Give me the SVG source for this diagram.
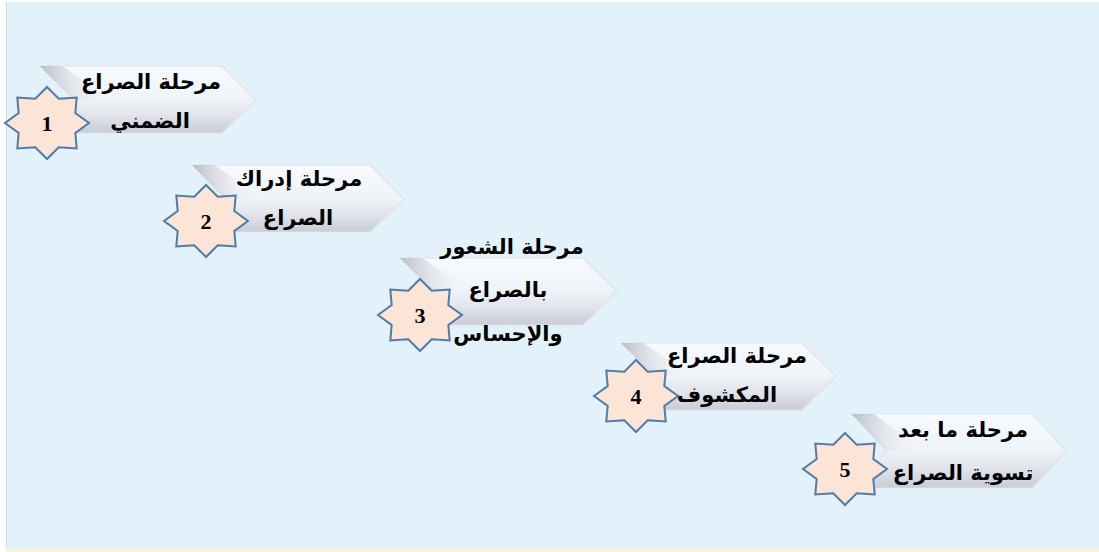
<svg xmlns="http://www.w3.org/2000/svg" width="1099" height="552" viewBox="0 0 1099 552">
  <defs>
    <linearGradient id="chevFill" x1="0" y1="0" x2="0" y2="1">
      <stop offset="0" stop-color="#f7fbfe"/>
      <stop offset="0.5" stop-color="#eef3f8"/>
      <stop offset="0.72" stop-color="#e2e5ec"/>
      <stop offset="1" stop-color="#c9ccd6"/>
    </linearGradient>
    <linearGradient id="notchShade" x1="0" y1="0" x2="1" y2="0">
      <stop offset="0" stop-color="#a9adb8" stop-opacity="0.8"/>
      <stop offset="1" stop-color="#ffffff" stop-opacity="0"/>
    </linearGradient>
    <polygon id="star" points="0,-36 11.73,-24.28 29.7,-25.46 28.33,-10.06 42,0 28.33,10.06 29.7,25.46 11.73,24.28 0,36 -11.73,24.28 -29.7,25.46 -28.33,10.06 -42,0 -28.33,-10.06 -29.7,-25.46 -11.73,-24.28"/>
  </defs>
  <style>
    .chev { fill: url(#chevFill); stroke: #dde2ea; stroke-width: 1.2; }
    .shade { fill: url(#notchShade); }
    .star { fill: #fce4d6; stroke: #4f7ba8; stroke-width: 2; stroke-linejoin: miter; }
    .lbl { font-family: "DejaVu Sans", "Noto Sans", sans-serif; font-weight: bold; font-size: 21px; fill: #000; text-anchor: middle; direction: rtl; }
    .num { font-family: "Liberation Serif", "Times New Roman", serif; font-weight: bold; font-size: 22px; fill: #000; text-anchor: middle; }
  </style>

  <rect x="0" y="0" width="1099" height="552" fill="#ffffff"/>
  <rect x="6" y="2" width="1093" height="547" fill="#e3f2fa"/>
  <line x1="6.5" y1="2" x2="6.5" y2="549" stroke="#d5dde2" stroke-width="1"/>
  <rect x="6" y="549" width="1093" height="3" fill="#fdf4dc"/>

  <g id="connectors"/>

  <g id="node1">
    <polygon class="chev" points="40,66 222,66 256,100 222,133 40,133 74,100"/>
    <polygon class="shade" points="40,66 74,100 112,100 62,66"/>
    <use href="#star" class="star" x="47" y="123"/>
    <text class="num" x="47" y="131">1</text>
    <text class="lbl" x="151" y="89">مرحلة الصراع</text>
    <text class="lbl" x="150" y="128">الضمني</text>
  </g>

  <g id="node2">
    <polygon class="chev" points="192,165 370,165 404,199 370,232 192,232 226,199"/>
    <polygon class="shade" points="192,165 226,199 264,199 214,165"/>
    <use href="#star" class="star" x="206" y="221"/>
    <text class="num" x="206" y="229">2</text>
    <text class="lbl" x="299" y="186">مرحلة إدراك</text>
    <text class="lbl" x="298" y="225">الصراع</text>
  </g>

  <g id="node3">
    <polygon class="chev" points="400,258 583,258 617,291 583,325 400,325 434,291"/>
    <polygon class="shade" points="400,258 434,291 472,291 422,258"/>
    <use href="#star" class="star" x="420" y="315"/>
    <text class="num" x="420" y="323">3</text>
    <text class="lbl" x="512" y="254">مرحلة الشعور</text>
    <text class="lbl" x="508" y="297">بالصراع</text>
    <text class="lbl" x="508" y="341">والإحساس</text>
  </g>

  <g id="node4">
    <polygon class="chev" points="621,343 802,343 836,376 802,410 621,410 655,376"/>
    <polygon class="shade" points="621,343 655,376 693,376 643,343"/>
    <use href="#star" class="star" x="636" y="396"/>
    <text class="num" x="636" y="404">4</text>
    <text class="lbl" x="737" y="363">مرحلة الصراع</text>
    <text class="lbl" x="727" y="402">المكشوف</text>
  </g>

  <g id="node5">
    <polygon class="chev" points="852,414 1032,414 1067,451 1032,488 852,488 887,451"/>
    <polygon class="shade" points="852,414 887,451 925,451 874,414"/>
    <use href="#star" class="star" x="845" y="469"/>
    <text class="num" x="845" y="477">5</text>
    <text class="lbl" x="963" y="437">مرحلة ما بعد</text>
    <text class="lbl" x="963" y="480">تسوية الصراع</text>
  </g>
</svg>
